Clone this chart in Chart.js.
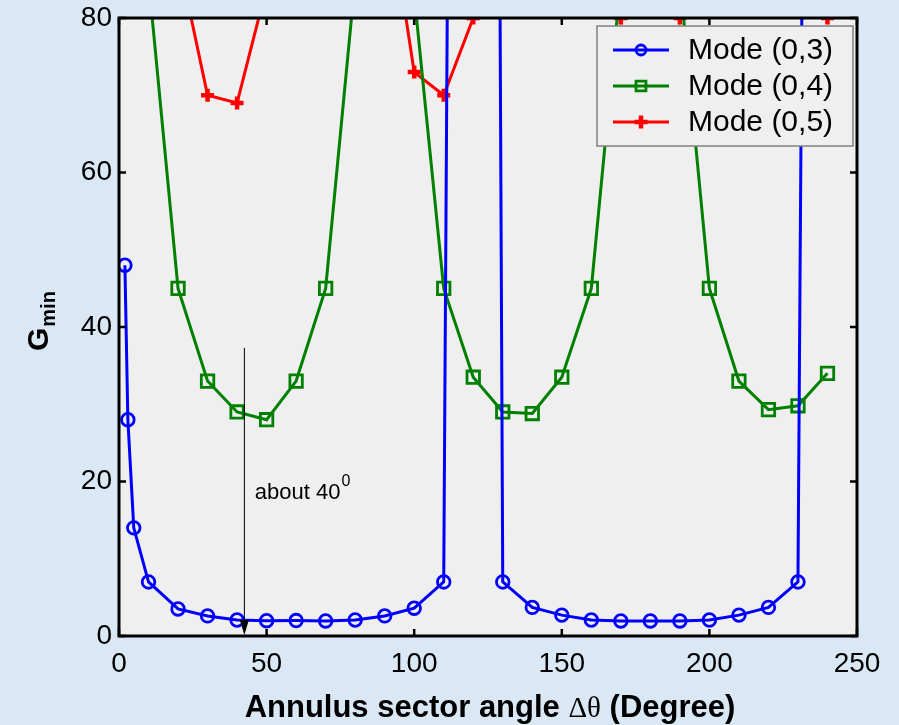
<!DOCTYPE html>
<html>
<head>
<meta charset="utf-8">
<script src="https://cdn.jsdelivr.net/npm/chart.js@4.4.1/dist/chart.umd.min.js"></script>
<style>
  html, body { margin: 0; padding: 0; background: #dae7f5; }
  canvas { display: block; }
</style>
</head>
<body>
<canvas id="c" width="899" height="725"></canvas>
<script>
// Mode (0,3): sector angle (deg) and minimum gain; values past 80 run off the top
const angle03 = [2, 3, 5, 10, 20, 30, 40, 50, 60, 70, 80, 90, 100, 110, 112, 128, 130, 140, 150, 160, 170, 180, 190, 200, 210, 220, 230, 232];
const gmin03  = [48, 28, 14, 7, 3.5, 2.6, 2.07, 1.98, 2.0, 1.95, 2.07, 2.6, 3.6, 7, 130, 169, 7, 3.7, 2.7, 2.07, 1.95, 1.95, 1.95, 2.07, 2.7, 3.7, 7, 119];
// Mode (0,4)
const angle04 = [10, 20, 30, 40, 50, 60, 70, 80, 100, 110, 120, 130, 140, 150, 160, 170, 190, 200, 210, 220, 230, 240];
const gmin04  = [85, 45, 33, 29, 28, 33, 45, 85, 83, 45, 33.5, 29, 28.8, 33.5, 45, 85, 85, 45, 33, 29.3, 29.8, 34];
// Mode (0,5)
const angle05 = [20, 30, 40, 50, 90, 100, 110, 120, 160, 170, 180, 190, 200, 230, 240];
const gmin05  = [88, 70, 69, 84, 98, 73, 70, 80, 100, 80, 100, 80, 100, 100, 80];

const seriesLabels = ['Mode (0,3)', 'Mode (0,4)', 'Mode (0,5)'];
const xTicks = [0, 50, 100, 150, 200, 250];
const yTicks = [0, 20, 40, 60, 80];

// arrow marking the optimum sector angle
const arrowAngle = 42.3;
const arrowTopG = 37.3;
const noteText = 'about 40';
const noteSup = '0';
const noteG = 17.7;

const Y_MAX = 80;
const toPts = (xs, ys) => xs.map((x, i) => ({ x: x, y: ys[i] }));
const radiusFor = r => ctx => (ctx.raw && ctx.raw.y > Y_MAX + 0.5 ? 0 : r);

const SANS = '"Liberation Sans", Arial, Helvetica, sans-serif';
const SERIF = '"Liberation Serif", "Times New Roman", serif';

const plotBg = {
  id: 'plotBg',
  beforeDatasetsDraw(chart) {
    const { ctx, chartArea: a } = chart;
    ctx.save();
    ctx.fillStyle = '#efefef';
    ctx.fillRect(a.left, a.top, a.right - a.left, a.bottom - a.top);
    ctx.restore();
  }
};

function drawMarker(ctx, ds, x, y, r) {
  ctx.save();
  ctx.strokeStyle = ds.borderColor;
  ctx.fillStyle = 'rgba(0,0,0,0)';
  ctx.lineWidth = ds.pointBorderWidth;
  Chart.helpers.drawPoint(ctx, { pointStyle: ds.pointStyle, radius: r, borderWidth: ds.pointBorderWidth, rotation: 0 }, x, y);
  ctx.restore();
}

const frameAndNotes = {
  id: 'frameAndNotes',
  afterDatasetsDraw(chart) {
    const { ctx, chartArea: a, scales } = chart;
    const xs = scales.x, ys = scales.y;
    ctx.save();
    // box
    ctx.strokeStyle = '#000';
    ctx.lineWidth = 3;
    ctx.strokeRect(a.left, a.top, a.right - a.left, a.bottom - a.top);
    // inward ticks on all four sides
    ctx.lineWidth = 2.5;
    const tl = 7;
    ctx.beginPath();
    xTicks.forEach(v => {
      const px = xs.getPixelForValue(v);
      ctx.moveTo(px, a.bottom); ctx.lineTo(px, a.bottom - tl);
      ctx.moveTo(px, a.top); ctx.lineTo(px, a.top + tl);
    });
    yTicks.forEach(v => {
      const py = ys.getPixelForValue(v);
      ctx.moveTo(a.left, py); ctx.lineTo(a.left + tl, py);
      ctx.moveTo(a.right, py); ctx.lineTo(a.right - tl, py);
    });
    ctx.stroke();

    // arrow annotation
    const ax = xs.getPixelForValue(arrowAngle);
    const ay0 = ys.getPixelForValue(arrowTopG);
    const ay1 = ys.getPixelForValue(0) - 1;
    ctx.strokeStyle = '#000';
    ctx.lineWidth = 1;
    ctx.beginPath();
    ctx.moveTo(ax + 0.5, ay0);
    ctx.lineTo(ax + 0.5, ay1 - 10);
    ctx.stroke();
    ctx.fillStyle = '#000';
    ctx.beginPath();
    ctx.moveTo(ax - 4, ay1 - 15);
    ctx.lineTo(ax + 5, ay1 - 15);
    ctx.lineTo(ax + 0.5, ay1);
    ctx.closePath();
    ctx.fill();

    ctx.font = '22px ' + SANS;
    ctx.textBaseline = 'alphabetic';
    ctx.textAlign = 'left';
    const tx = ax + 11, ty = ys.getPixelForValue(noteG);
    ctx.fillText(noteText, tx, ty);
    const w = ctx.measureText(noteText).width;
    ctx.font = '16px ' + SANS;
    ctx.fillText(noteSup, tx + w + 1, ty - 13);

    // legend
    const lx = 597, ly = 26, lw = 256, lh = 120;
    ctx.fillStyle = '#efefef';
    ctx.fillRect(lx, ly, lw, lh);
    ctx.strokeStyle = '#808080';
    ctx.lineWidth = 1.5;
    ctx.strokeRect(lx, ly, lw, lh);
    chart.data.datasets.forEach((ds, i) => {
      const yy = ly + 24 + i * 36;
      ctx.strokeStyle = ds.borderColor;
      ctx.lineWidth = ds.borderWidth;
      ctx.beginPath();
      ctx.moveTo(lx + 16, yy); ctx.lineTo(lx + 72, yy);
      ctx.stroke();
      drawMarker(ctx, ds, lx + 44, yy, ds.legendRadius);
      ctx.fillStyle = '#000';
      ctx.font = '30px ' + SANS;
      ctx.textBaseline = 'middle';
      ctx.fillText(ds.label, lx + 91, yy + 1);
    });

    // axis titles
    ctx.fillStyle = '#000';
    ctx.textBaseline = 'alphabetic';
    const p1 = 'Annulus sector angle ', p2 = '\u0394\u03B8', p3 = ' (Degree)';
    const fB = 'bold 31px ' + SANS, fS = '29px ' + SERIF;
    ctx.font = fB; const w1 = ctx.measureText(p1).width, w3 = ctx.measureText(p3).width;
    ctx.font = fS; const w2 = ctx.measureText(p2).width;
    let x0 = 490 - (w1 + w2 + w3) / 2;
    const by = 717;
    ctx.font = fB; ctx.fillText(p1, x0, by);
    ctx.font = fS; ctx.fillText(p2, x0 + w1, by);
    ctx.font = fB; ctx.fillText(p3, x0 + w1 + w2, by);

    ctx.translate(48, 351);
    ctx.rotate(-Math.PI / 2);
    ctx.font = 'bold 30px ' + SANS;
    ctx.fillText('G', 0, 0);
    const gw = ctx.measureText('G').width;
    ctx.font = 'bold 20px ' + SANS;
    ctx.fillText('min', gw + 1, 7);
    ctx.restore();
  }
};

const chart = new Chart(document.getElementById('c'), {
  type: 'line',
  data: {
    datasets: [
      { label: seriesLabels[0], data: toPts(angle03, gmin03), borderColor: '#0000ff', backgroundColor: 'rgba(0,0,0,0)',
        borderWidth: 3, pointStyle: 'circle', pointRadius: radiusFor(6.3), pointBorderWidth: 2.8, legendRadius: 5 },
      { label: seriesLabels[1], data: toPts(angle04, gmin04), borderColor: '#008000', backgroundColor: 'rgba(0,0,0,0)',
        borderWidth: 3, pointStyle: 'rect', pointRadius: radiusFor(8.8), pointBorderWidth: 2.8, legendRadius: 7 },
      { label: seriesLabels[2], data: toPts(angle05, gmin05), borderColor: '#ff0000', backgroundColor: 'rgba(0,0,0,0)',
        borderWidth: 3, pointStyle: 'cross', pointRadius: radiusFor(6.5), pointBorderWidth: 4.5, legendRadius: 6.5 }
    ]
  },
  options: {
    responsive: false,
    animation: false,
    devicePixelRatio: 1,
    clip: 0,
    layout: { padding: { top: 18, right: 42, left: 0, bottom: 0 } },
    elements: { line: { tension: 0, fill: false }, point: { hoverRadius: 0 } },
    plugins: { legend: { display: false }, tooltip: { enabled: false } },
    scales: {
      x: {
        type: 'linear', min: 0, max: 250,
        afterBuildTicks: s => { s.ticks = xTicks.map(v => ({ value: v })); },
        afterFit: s => { s.height = 89; s.paddingLeft = 0; s.paddingRight = 0; },
        grid: { display: false, drawTicks: false },
        border: { display: false },
        ticks: { color: '#000', font: { family: SANS, size: 28 }, padding: 11, maxRotation: 0, autoSkip: false }
      },
      y: {
        type: 'linear', min: 0, max: 80,
        afterBuildTicks: s => { s.ticks = yTicks.map(v => ({ value: v })); },
        afterFit: s => { s.width = 119; s.paddingTop = 0; s.paddingBottom = 0; },
        grid: { display: false, drawTicks: false },
        border: { display: false },
        ticks: { color: '#000', font: { family: SANS, size: 28 }, padding: 7, autoSkip: false }
      }
    }
  },
  plugins: [plotBg, frameAndNotes]
});
</script>
</body>
</html>
